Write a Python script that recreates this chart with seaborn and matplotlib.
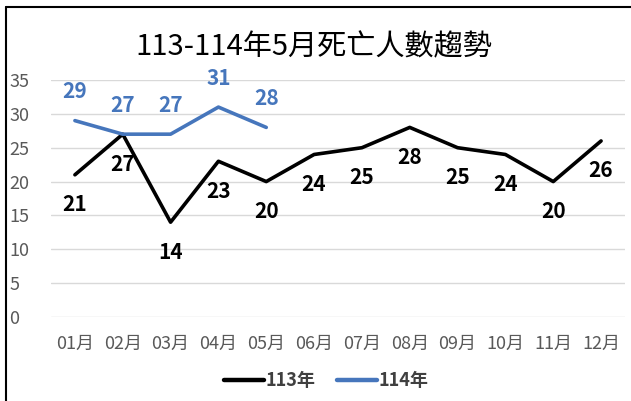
import numpy as np
import pandas as pd
import seaborn as sns
import matplotlib.pyplot as plt
from matplotlib.lines import Line2D

months = ["01月", "02月", "03月", "04月", "05月", "06月",
          "07月", "08月", "09月", "10月", "11月", "12月"]
deaths_113 = [21, 27, 14, 23, 20, 24, 25, 28, 25, 24, 20, 26]
deaths_114 = [29, 27, 27, 31, 28]
series_names = ["113年", "114年"]
series_colors = ["#000000", "#4676BC"]
title = "113-114年5月死亡人數趨勢"

sns.set_style("white")
plt.rcParams['font.family'] = ['Noto Sans CJK TC', 'DejaVu Sans']

rows = []
for i, v in enumerate(deaths_113):
    rows.append({"x": i, "month": months[i], "value": v, "year": series_names[0]})
for i, v in enumerate(deaths_114):
    rows.append({"x": i, "month": months[i], "value": v, "year": series_names[1]})
df = pd.DataFrame(rows)

fig = plt.figure(figsize=(6.31, 4.01), dpi=100)
ax = fig.add_axes([51/631, 1-317/401, (625-51)/631, (317-80)/401])

sns.lineplot(data=df, x="x", y="value", hue="year", palette=series_colors,
             linewidth=2.6, ax=ax, legend=False)

# data labels
for i, v in enumerate(deaths_113):
    ax.annotate(str(v), (i, v), xytext=(0, -30), textcoords="offset pixels",
                ha="center", va="center", fontsize=15, fontweight="bold", color="black")
for i, v in enumerate(deaths_114):
    ax.annotate(str(v), (i, v), xytext=(0, 29), textcoords="offset pixels",
                ha="center", va="center", fontsize=15, fontweight="bold", color=series_colors[1])

ax.set_xlim(-0.5, len(months) - 0.5)
ax.set_ylim(0, 35)
ax.set_yticks(np.arange(0, 36, 5))
ax.set_xticks(range(len(months)))
ax.set_xticklabels(months)
ax.grid(axis="y", color="#D9D9D9", linewidth=1)
ax.set_axisbelow(True)
sns.despine(ax=ax, left=True, bottom=True)
ax.tick_params(axis="y", length=0, pad=30, labelsize=13, labelcolor="#595959")
ax.tick_params(axis="x", length=0, pad=13, labelsize=13, labelcolor="#595959")
for lab in ax.get_yticklabels():
    lab.set_horizontalalignment("left")
ax.set_xlabel("")
ax.set_ylabel("")

fig.text(0.497, 1-47/401, title, ha="center", va="center", fontsize=21, color="black")

handles = [Line2D([], [], color=c, linewidth=3.2) for c in series_colors]
fig.legend(handles, series_names, loc="center", bbox_to_anchor=(0.517, 1-381/401),
           ncol=2, frameon=False, handlelength=2.2, handletextpad=0.1, columnspacing=1.2,
           prop={"size": 13, "weight": "bold"}, labelcolor="#404040")

# chart frame (left and top edges visible)
fig.add_artist(Line2D([5.5/631, 5.5/631], [0, 1-6.5/401], color="black", linewidth=1.5))
fig.add_artist(Line2D([5.5/631, 1], [1-6.5/401, 1-6.5/401], color="black", linewidth=1.5))

plt.savefig("out.png", dpi=100)
